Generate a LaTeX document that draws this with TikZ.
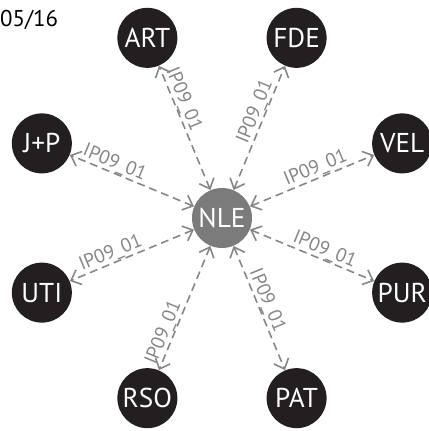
\documentclass[tikz,border=0pt]{standalone}
\usepackage{fontspec}
\setmainfont{PT Sans}
\usetikzlibrary{arrows.meta}

\definecolor{unitblack}{HTML}{231F20}
\definecolor{hubgray}{HTML}{7B7B7B}
\definecolor{linkgray}{HTML}{868686}

\begin{document}
\begin{tikzpicture}[
    hub/.style={circle, fill=hubgray, text=white, minimum size=1.2cm, inner sep=0pt, font=\fontsize{15.5}{17}\selectfont},
    unit/.style={circle, fill=unitblack, text=white, minimum size=1.2cm, inner sep=0pt, font=\fontsize{15.5}{17}\selectfont},
    link/.style={{Straight Barb[length=5pt,width=9pt]}-{Straight Barb[length=5pt,width=9pt]}, draw=linkgray, line width=0.9pt, dash pattern=on 4.5pt off 2.8pt},
    lbl/.style={sloped, above, inner sep=0pt, text=linkgray, font=\fontsize{11}{13}\selectfont}
]
    \useasboundingbox (-4.44,-4.26) rectangle (4.14,4.36);

    \node[anchor=west, font=\fontsize{13}{15}\selectfont] (date) at (-4.56,3.97) {05/16};

    \node[hub] (nle) at (0,0) {NLE};
    \node[unit] (art) at (112.5:3.9) {ART};
    \node[unit] (fde) at (67.5:3.9) {FDE};
    \node[unit] (vel) at (22.5:3.9) {VEL};
    \node[unit] (pur) at (-22.5:3.9) {PUR};
    \node[unit] (pat) at (-67.5:3.9) {PAT};
    \node[unit] (rso) at (-112.5:3.9) {RSO};
    \node[unit] (uti) at (-157.5:3.9) {UTI};
    \node[unit] (jp) at (157.5:3.9) {J+P};

    \draw[link] (nle) -- node[lbl, pos=0.70] {IP09\_01} (art);
    \draw[link] (nle) -- node[lbl, pos=0.60] {IP09\_01} (fde);
    \draw[link] (nle) -- node[lbl, pos=0.56] {IP09\_01} (vel);
    \draw[link] (nle) -- node[lbl, pos=0.57] {IP09\_01} (pur);
    \draw[link] (nle) -- node[lbl, pos=0.47] {IP09\_01} (pat);
    \draw[link] (nle) -- node[lbl, pos=0.73] {IP09\_01} (rso);
    \draw[link] (nle) -- node[lbl, pos=0.64] {IP09\_01} (uti);
    \draw[link] (nle) -- node[lbl, pos=0.67] {IP09\_01} (jp);
\end{tikzpicture}
\end{document}
